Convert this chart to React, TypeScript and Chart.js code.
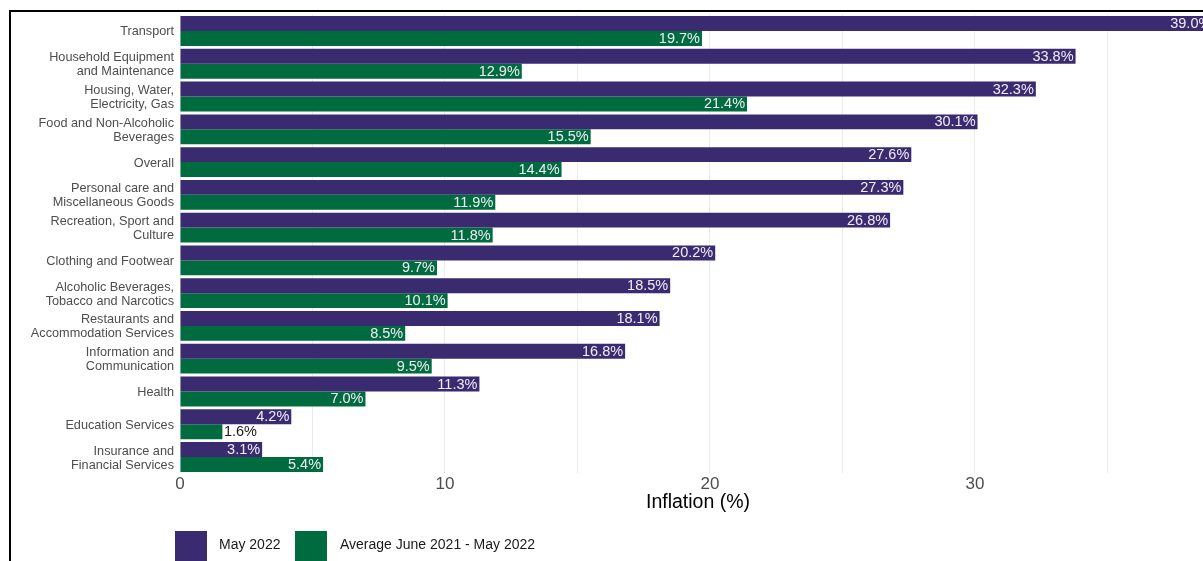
import React, { useEffect, useRef } from "react";
import { Chart, registerables } from "chart.js";

Chart.register(...registerables);

const categories: string[][] = [
  ["Transport"],
  ["Household Equipment", "and Maintenance"],
  ["Housing, Water,", "Electricity, Gas"],
  ["Food and Non-Alcoholic", "Beverages"],
  ["Overall"],
  ["Personal care and", "Miscellaneous Goods"],
  ["Recreation, Sport and", "Culture"],
  ["Clothing and Footwear"],
  ["Alcoholic Beverages,", "Tobacco and Narcotics"],
  ["Restaurants and", "Accommodation Services"],
  ["Information and", "Communication"],
  ["Health"],
  ["Education Services"],
  ["Insurance and", "Financial Services"],
];

const may2022: number[] = [39.0, 33.8, 32.3, 30.1, 27.6, 27.3, 26.8, 20.2, 18.5, 18.1, 16.8, 11.3, 4.2, 3.1];
const avgJun21May22: number[] = [19.7, 12.9, 21.4, 15.5, 14.4, 11.9, 11.8, 9.7, 10.1, 8.5, 9.5, 7.0, 1.6, 5.4];

const seriesLabels: string[] = ["May 2022", "Average June 2021 - May 2022"];
const seriesColors: string[] = ["#3a2a70", "#006b3f"];
const xTickValues: number[] = [0, 10, 20, 30];
const xAxisTitle = "Inflation (%)";

const FONT = "'Liberation Sans', Arial, sans-serif";

const valueLabelPlugin = {
  id: "valueLabels",
  afterDatasetsDraw(chart: any) {
    const ctx = chart.ctx;
    ctx.save();
    ctx.font = `14.5px ${FONT}`;
    ctx.textBaseline = "middle";
    chart.data.datasets.forEach((ds: any, di: number) => {
      const meta = chart.getDatasetMeta(di);
      meta.data.forEach((el: any, i: number) => {
        const v = ds.data[i] as number;
        const text = v.toFixed(1) + "%";
        const w = ctx.measureText(text).width;
        const barW = el.x - el.base;
        if (w + 14 < barW) {
          ctx.fillStyle = "#f1eef7";
          ctx.textAlign = "right";
          ctx.fillText(text, el.x - 2, el.y + 0.5);
        } else {
          ctx.fillStyle = "#1a1a1a";
          ctx.textAlign = "left";
          ctx.fillText(text, el.x + 1.5, el.y + 0.5);
        }
      });
    });
    ctx.restore();
  },
};

const legendPlugin = {
  id: "customLegend",
  afterDraw(chart: any) {
    const ctx = chart.ctx;
    ctx.save();
    const items = [
      { box: 175, text: 219 },
      { box: 295, text: 340 },
    ];
    ctx.font = `14px ${FONT}`;
    ctx.textBaseline = "middle";
    ctx.textAlign = "left";
    items.forEach((it, i) => {
      ctx.fillStyle = seriesColors[i];
      ctx.fillRect(it.box, 531, 32, 32);
      ctx.fillStyle = "#1a1a1a";
      ctx.fillText(seriesLabels[i], it.text, 545);
    });
    ctx.restore();
  },
};

export default function App() {
  const canvasRef = useRef<HTMLCanvasElement | null>(null);

  useEffect(() => {
    if (!canvasRef.current) return;
    const chart = new Chart(canvasRef.current, {
      type: "bar",
      data: {
        labels: categories,
        datasets: [
          {
            label: seriesLabels[0],
            data: may2022,
            backgroundColor: seriesColors[0],
            borderWidth: 0,
            categoryPercentage: 0.91,
            barPercentage: 1.0,
          },
          {
            label: seriesLabels[1],
            data: avgJun21May22,
            backgroundColor: seriesColors[1],
            borderWidth: 0,
            categoryPercentage: 0.91,
            barPercentage: 1.0,
          },
        ],
      },
      options: {
        indexAxis: "y",
        responsive: false,
        animation: false,
        devicePixelRatio: 1,
        layout: { padding: { top: 14.6, bottom: 46.6, left: 0, right: 0 } },
        plugins: {
          legend: { display: false },
          tooltip: { enabled: false },
          title: { display: false },
        },
        scales: {
          x: {
            type: "linear",
            min: 0,
            max: 39.1,
            border: { display: false },
            grid: { color: "#ebebeb", lineWidth: 1, drawTicks: false },
            ticks: {
              stepSize: 5,
              includeBounds: false,
              padding: 1,
              color: "#4d4d4d",
              font: { family: FONT, size: 17 },
              callback: (value: any) =>
                xTickValues.includes(Number(value)) ? String(value) : "",
            },
            title: {
              display: true,
              text: xAxisTitle,
              color: "#000000",
              font: { family: FONT, size: 19.5 },
              padding: 0,
            },
            afterFit: (scale: any) => {
              scale.height = 41;
            },
          },
          y: {
            type: "category",
            border: { display: false },
            grid: { display: false, drawTicks: false },
            ticks: {
              padding: 6,
              labelOffset: 1,
              color: "#4d4d4d",
              font: { family: FONT, size: 12.7, lineHeight: 1.1 },
            },
            afterFit: (scale: any) => {
              scale.width = 180;
              scale.paddingTop = 0;
              scale.paddingBottom = 0;
            },
          },
        },
      },
      plugins: [valueLabelPlugin, legendPlugin],
    });
    return () => chart.destroy();
  }, []);

  return (
    <div
      style={{
        position: "fixed",
        left: 0,
        top: 0,
        width: 1203,
        height: 561,
        overflow: "hidden",
        background: "#ffffff",
      }}
    >
      <canvas
        ref={canvasRef}
        width={1216}
        height={561}
        style={{ position: "absolute", left: 0, top: 0, width: 1216, height: 561 }}
      />
      <div
        style={{
          position: "absolute",
          left: 9,
          top: 10,
          width: 1300,
          height: 700,
          borderTop: "2px solid #000",
          borderLeft: "2px solid #000",
          pointerEvents: "none",
        }}
      />
    </div>
  );
}
